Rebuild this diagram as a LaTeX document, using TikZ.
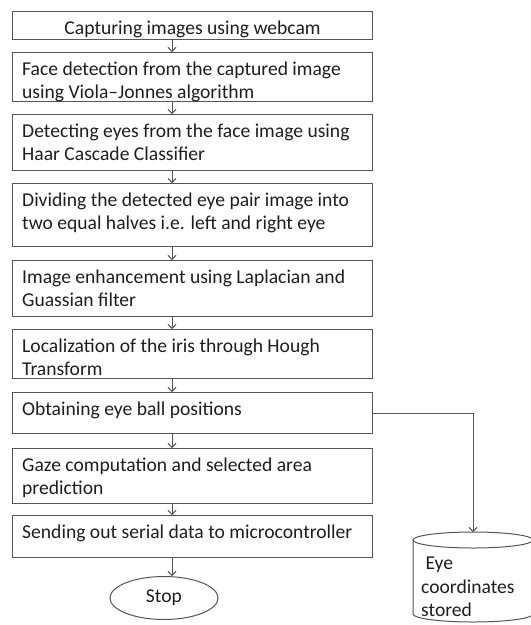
\documentclass[tikz,border=0pt]{standalone}
\usepackage{fontspec}
\setmainfont{Carlito}
\usepackage{xcolor}
\usepackage{tikz}
\usetikzlibrary{positioning,arrows.meta,shapes.geometric}
\definecolor{linegray}{RGB}{85,85,85}
\definecolor{textgray}{RGB}{30,30,30}
\newcommand{\flowfont}{\fontsize{19.6pt}{23.5pt}\selectfont}

\begin{document}
\begin{tikzpicture}
		[x=1pt,y=-1pt,
		every node/.style={font=\flowfont,text=textgray},
		stepbox/.style={draw=linegray,line width=1.1pt,minimum width=360pt,inner sep=0pt,anchor=north west},
		steptext/.style={inner sep=0pt,align=left,anchor=north west},
		flow/.style={draw=linegray,line width=1pt,-{Straight Barb[length=4pt,width=8pt]}}]
		\useasboundingbox (0,0) rectangle (531,625);
		\coordinate (axis) at (172,0);
		\node[stepbox,minimum height=28pt] (b1) at (12,11) {};
		\node[inner sep=0pt,anchor=base] (t1) at ([yshift=-23pt]b1.north) {Capturing images using webcam};
		\foreach \n/\top/\h/\txt in {
			2/52/49/{Face detection from the captured image\\using Viola--Jonnes algorithm},
			3/114/56/{Detecting eyes from the face image using\\Haar Cascade Classifier},
			4/183/63/{Dividing the detected eye pair image into\\two equal halves i.e. left and right eye},
			5/260/56/{Image enhancement using Laplacian and\\Guassian filter},
			6/329/49/{Localization of the iris through Hough\\Transform},
			7/392/41/{Obtaining eye ball positions},
			8/448/55/{Gaze computation and selected area\\prediction},
			9/515/42/{Sending out serial data to microcontroller}}
		{
			\node[stepbox,minimum height=\h pt] (b\n) at (12,\top) {};
			\node[steptext] (t\n) at ([shift={(10pt,-6.5pt)}]b\n.north west) {\strut\txt};
		}
		\node[draw=linegray,line width=1pt,ellipse,minimum width=108pt,minimum height=43pt,inner sep=0pt] (stop) at (164,598) {Stop};
		\foreach \a/\b in {1/2,2/3,3/4,4/5,5/6,6/7,7/8,8/9}
			\draw[flow] (b\a.south -| axis) -- (b\b.north -| axis);
		\draw[flow] (b9.south -| axis) -- (stop.north -| axis);
		\draw[linegray,line width=1pt] (413,540) -- (413,614) arc[start angle=180,end angle=360,x radius=60pt,y radius=8pt] -- (533,540);
		\draw[linegray,line width=1pt] (473,540) ellipse [x radius=60pt,y radius=8pt];
		\coordinate (storetop) at (473,532);
		\node[steptext] (store) at (421,553) {\strut\ Eye\\coordinates\\stored};
		\draw[flow] (b7.east) -| (storetop);
\end{tikzpicture}
\end{document}
